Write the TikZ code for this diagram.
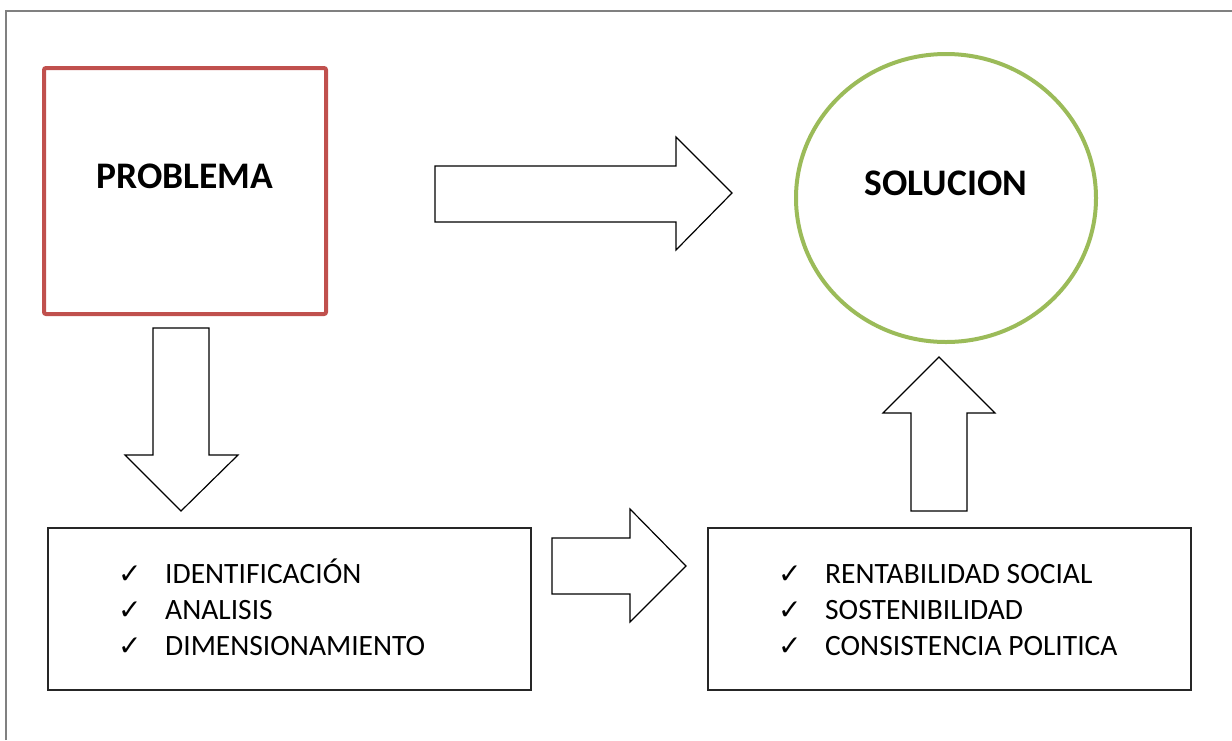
\documentclass[tikz,border=0pt]{standalone}
\usepackage{fontspec}
\setmainfont{Carlito}
\newfontfamily\checkfont{DejaVu Sans}
\usepackage{tikz}
\usetikzlibrary{shapes.geometric,positioning}
\definecolor{probred}{RGB}{192,80,77}
\definecolor{solgreen}{RGB}{155,187,89}
\definecolor{framegray}{RGB}{128,128,128}

\begin{document}
\begin{tikzpicture}[x=1pt, y=-1pt,
    frame/.style={draw=framegray, line width=2pt},
    probbox/.style={rectangle, draw=probred, line width=4pt, rounded corners=2pt, minimum width=282pt, minimum height=246pt, inner sep=0pt},
    solcircle/.style={ellipse, draw=solgreen, line width=4pt, minimum width=300pt, minimum height=288pt, inner sep=0pt},
    listbox/.style={rectangle, draw=black!85, line width=1.3pt, minimum width=483pt, minimum height=162pt, inner sep=0pt},
    title/.style={font=\fontsize{37.5}{42}\selectfont\bfseries, inner sep=0pt},
    item/.style={font=\fontsize{29.5}{34}\selectfont, anchor=base west, inner sep=0pt},
    blockarrow/.style={draw=black, line width=1.2pt, fill=white, line join=miter}
]
    \useasboundingbox (0,0) rectangle (1232,740);
    \draw[frame] (6,740) |- (1232,11);

    % main blocks
    \node[probbox] (problema) at (185,191) {};
    \node[title] (problematxt) at (185,176) {PROBLEMA};
    \node[solcircle] (solucion) at (946,198) {};
    \node[title] (soluciontxt) at (946,183) {SOLUCION};

    \node[listbox] (diagnostico) at (289.5,609) {};
    \node[listbox] (criterios) at (949.5,609) {};

    % check lists
    \foreach \txt [count=\i] in {IDENTIFICACIÓN, ANALISIS, DIMENSIONAMIENTO}
        \node[item] (diag\i) at (118,547+36*\i) {\makebox[47pt][l]{\checkfont\fontsize{28}{32}\selectfont ✓}\txt};
    \foreach \txt [count=\i] in {RENTABILIDAD SOCIAL, SOSTENIBILIDAD, CONSISTENCIA POLITICA}
        \node[item] (crit\i) at (778,547+36*\i) {\makebox[47pt][l]{\checkfont\fontsize{28}{32}\selectfont ✓}\txt};

    % block arrows
    \draw[blockarrow] (435,166) -- (676,166) -- (676,137) -- (732,193) -- (676,250) -- (676,222) -- (435,222) -- cycle;
    \draw[blockarrow] (153,328) -- (209,328) -- (209,455) -- (238,455) -- (181,511) -- (125,455) -- (153,455) -- cycle;
    \draw[blockarrow] (552,538) -- (630,538) -- (630,509) -- (686,566) -- (630,622) -- (630,594) -- (552,594) -- cycle;
    \draw[blockarrow] (911,511) -- (911,413) -- (883,413) -- (939,357) -- (995,413) -- (967,413) -- (967,511) -- cycle;
\end{tikzpicture}
\end{document}
